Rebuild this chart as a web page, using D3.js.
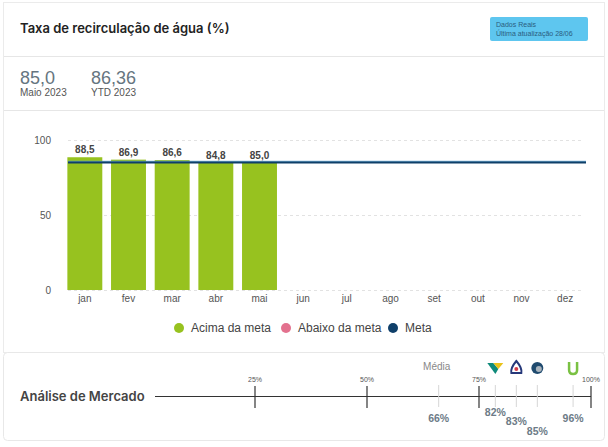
<!DOCTYPE html>
<html>
<head>
<meta charset="utf-8">
<script src="https://cdn.jsdelivr.net/npm/d3@7"></script>
<style>
  body { margin: 0; background: #fff; }
  svg { display: block; }
</style>
</head>
<body>
<svg id="chart" width="608" height="447"></svg>
<script>
// Months, values and goal.
const months = ["jan", "fev", "mar", "abr", "mai", "jun", "jul", "ago", "set", "out", "nov", "dez"];
const values = [88.5, 86.9, 86.6, 84.8, 85.0];
const meta = 85;
const yTicks = [0, 50, 100];

// Market analysis.
const marketTicks = [25, 50, 75, 100];
const marketNames = ["Média", "Vale", "CBA", "Gerdau", "Usiminas"];
const marketValues = [66, 82, 83, 85, 96];

const legendNames = ["Acima da meta", "Abaixo da meta", "Meta"];
const COLORS = { above: "#97c21f", below: "#e3718e", meta: "#0f3f69" };

const svg = d3.select("#chart");
const FONT = "'Liberation Sans', Arial, sans-serif";

// Cards
svg.append("rect").attr("x", 0).attr("y", 0).attr("width", 608).attr("height", 447).attr("fill", "#fff");
svg.append("rect").attr("x", 3.5).attr("y", 2.5).attr("width", 601).attr("height", 350)
  .attr("fill", "#fff").attr("stroke", "#ebebeb");
[56.5, 110.5].forEach((y) => {
  svg.append("line").attr("x1", 4).attr("x2", 604).attr("y1", y).attr("y2", y).attr("stroke", "#e6e6e6");
});
svg.append("rect").attr("x", 3.5).attr("y", 352.5).attr("width", 601).attr("height", 88).attr("rx", 4)
  .attr("fill", "#fff").attr("stroke", "#e8e8e8");

// Header
svg.append("text").attr("x", 20).attr("y", 33).attr("font-family", "Inter, 'Open Sans', sans-serif")
  .attr("font-weight", 600).attr("font-size", 13).attr("fill", "#222")
  .text("Taxa de recirculação de água (%)");
svg.append("rect").attr("x", 490).attr("y", 17).attr("width", 98).attr("height", 24).attr("rx", 2).attr("fill", "#5ec6ef");
svg.append("text").attr("x", 496).attr("y", 27).attr("font-family", FONT).attr("font-size", 7).attr("fill", "#2b5d80").text("Dados Reais");
svg.append("text").attr("x", 496).attr("y", 36).attr("font-family", FONT).attr("font-size", 7).attr("fill", "#2b5d80").text("Última atualização 28/06");

// Stats
const stats = [[values[values.length - 1].toFixed(1).replace(".", ","), "Maio 2023", 20], ["86,36", "YTD 2023", 91]];
stats.forEach((s) => {
  svg.append("text").attr("x", s[2]).attr("y", 84).attr("font-family", FONT).attr("font-size", 18).attr("fill", "#66757f").text(s[0]);
  svg.append("text").attr("x", s[2]).attr("y", 96).attr("font-family", FONT).attr("font-size", 10).attr("fill", "#555").text(s[1]);
});

// Bar chart
const x = d3.scaleBand().domain(months).range([63, 587]).paddingInner(0.2).paddingOuter(0.1);
const y = d3.scaleLinear().domain([0, 100]).range([290, 140]);

const g = svg.append("g");
g.selectAll(".grid").data(yTicks).enter().append("line")
  .attr("x1", 68).attr("x2", 584)
  .attr("y1", (d) => y(d) + 0.5).attr("y2", (d) => y(d) + 0.5)
  .attr("stroke", "#e2e2e2").attr("stroke-dasharray", "3,3");
g.selectAll(".ytick").data(yTicks).enter().append("text")
  .attr("x", 51).attr("y", (d) => y(d)).attr("dy", "0.35em").attr("text-anchor", "end")
  .attr("font-family", FONT).attr("font-size", 10).attr("fill", "#555").text((d) => d);

g.selectAll(".bar").data(values).enter().append("rect")
  .attr("x", (d, i) => x(months[i])).attr("width", x.bandwidth())
  .attr("y", (d) => y(d)).attr("height", (d) => y(0) - y(d))
  .attr("fill", (d) => (d >= meta - 0.5 ? COLORS.above : COLORS.below));
g.selectAll(".val").data(values).enter().append("text")
  .attr("x", (d, i) => x(months[i]) + x.bandwidth() / 2).attr("y", (d) => y(d) - 4)
  .attr("text-anchor", "middle").attr("font-family", FONT).attr("font-weight", "bold")
  .attr("font-size", 10).attr("fill", "#444").text((d) => d.toFixed(1).replace(".", ","));
g.selectAll(".xl").data(months).enter().append("text")
  .attr("x", (d) => x(d) + x.bandwidth() / 2).attr("y", 302).attr("text-anchor", "middle")
  .attr("font-family", FONT).attr("font-size", 10).attr("fill", "#555").text((d) => d);

// Meta line
g.append("line").attr("x1", 68).attr("x2", 586).attr("y1", y(meta) - 1.2).attr("y2", y(meta) - 1.2)
  .attr("stroke", "#5aa2cf").attr("stroke-width", 1);
g.append("line").attr("x1", 68).attr("x2", 586).attr("y1", y(meta)).attr("y2", y(meta))
  .attr("stroke", COLORS.meta).attr("stroke-width", 2);

// Legend
const legendColors = [COLORS.above, COLORS.below, COLORS.meta];
const legendX = [179, 286, 393];
legendNames.forEach((name, i) => {
  svg.append("circle").attr("cx", legendX[i]).attr("cy", 328).attr("r", 5).attr("fill", legendColors[i]);
  svg.append("text").attr("x", legendX[i] + 12).attr("y", 328).attr("dy", "0.35em")
    .attr("font-family", FONT).attr("font-size", 12).attr("fill", "#444").text(name);
});

// Market analysis
svg.append("text").attr("x", 20).attr("y", 401).attr("font-family", "Inter, 'Open Sans', sans-serif")
  .attr("font-weight", 600).attr("font-size", 13).attr("fill", "#444").text("Análise de Mercado");

const mx = d3.scaleLinear().domain([25, 100]).range([255, 591]);
const axisY = 396;
svg.append("line").attr("x1", 155).attr("x2", mx(100)).attr("y1", axisY + 0.5).attr("y2", axisY + 0.5)
  .attr("stroke", "#333");
marketTicks.forEach((t) => {
  svg.append("line").attr("x1", mx(t)).attr("x2", mx(t)).attr("y1", 386).attr("y2", 408)
    .attr("stroke", "#333").attr("stroke-width", 1.2);
  svg.append("text").attr("x", mx(t)).attr("y", 382).attr("text-anchor", "middle")
    .attr("font-family", FONT).attr("font-size", 7).attr("fill", "#555").text(t + "%");
});

// Markers: group close values and spread each group around its mean.
const GAP = 21;
const raw = marketValues.map((v) => mx(v));
const pos = raw.slice();
let groups = [[0]];
for (let i = 1; i < raw.length; i++) {
  const last = groups[groups.length - 1];
  if (raw[i] - raw[last[last.length - 1]] < GAP) last.push(i);
  else groups.push([i]);
}
groups.forEach((grp) => {
  const mean = d3.mean(grp, (i) => raw[i]);
  grp.forEach((idx, k) => { pos[idx] = mean + (k - (grp.length - 1) / 2) * GAP; });
});
const labelDy = [0, -6, 3, 13, 0];
marketValues.forEach((v, i) => {
  const px = pos[i];
  svg.append("line").attr("x1", px).attr("x2", px).attr("y1", 385).attr("y2", 407)
    .attr("stroke", "#d6d6d6");
  svg.append("text").attr("x", px).attr("y", 422 + labelDy[i]).attr("text-anchor", "middle")
    .attr("font-family", FONT).attr("font-weight", "bold").attr("font-size", 10.5).attr("fill", "#6d7b87")
    .text(v + "%");
  const lg = svg.append("g").attr("transform", "translate(" + px + ",368)");
  if (marketNames[i] === "Média") {
    svg.append("text").attr("x", px - 2).attr("y", 370).attr("text-anchor", "middle")
      .attr("font-family", FONT).attr("font-size", 10).attr("fill", "#888").text("Média");
  } else if (marketNames[i] === "Vale") {
    lg.append("path").attr("d", "M-8,-5 L0,6 L3,1 L-2,-5 Z").attr("fill", "#0f8a7a");
    lg.append("path").attr("d", "M-2,-5 L3,1 L8,-5 Z").attr("fill", "#e9c21a");
  } else if (marketNames[i] === "CBA") {
    lg.append("path").attr("d", "M0,-7 Q6,0 5,5 L-5,5 Q-6,0 0,-7 Z").attr("fill", "none").attr("stroke", "#26387a").attr("stroke-width", 2);
    lg.append("circle").attr("cx", 0).attr("cy", 1).attr("r", 2).attr("fill", "#d43c4a");
  } else if (marketNames[i] === "Gerdau") {
    lg.append("circle").attr("cx", 0).attr("cy", 0).attr("r", 6).attr("fill", "#1f4a6e");
    lg.append("circle").attr("cx", 1.5).attr("cy", 1).attr("r", 3).attr("fill", "#a9b4bd");
  } else {
    lg.append("path").attr("d", "M-4,-6 L-4,2 Q-4,6 0,6 Q4,6 4,2 L4,-6")
      .attr("fill", "none").attr("stroke", "#7ac143").attr("stroke-width", 2.5);
  }
});
</script>
</body>
</html>
